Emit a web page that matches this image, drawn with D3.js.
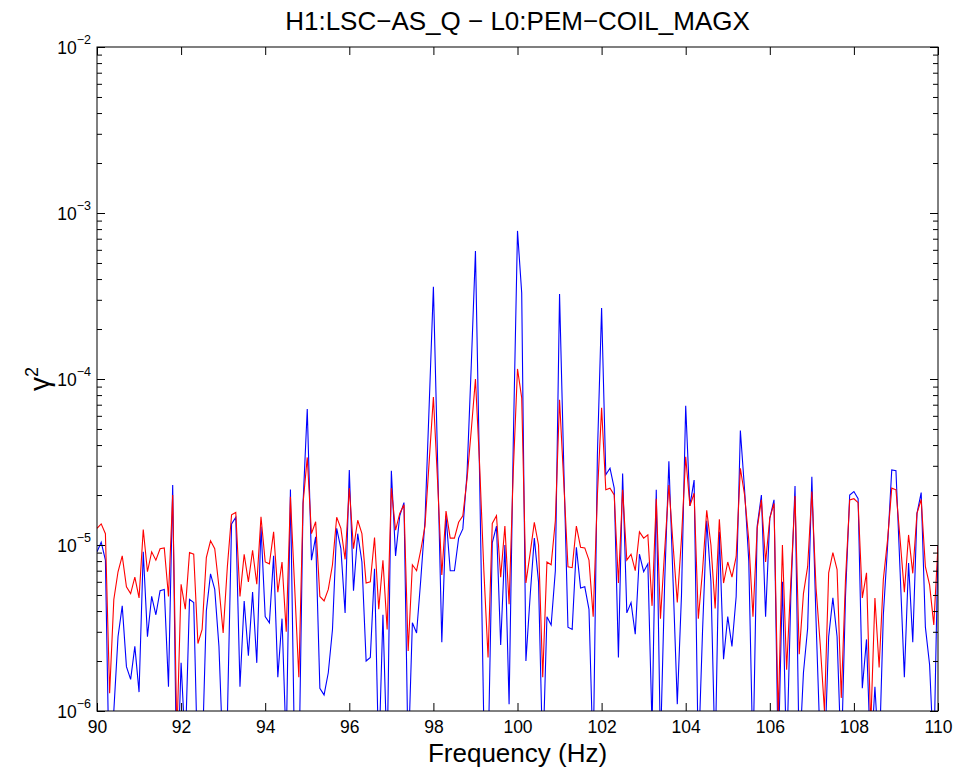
<!DOCTYPE html>
<html><head><meta charset="utf-8">
<script src="https://cdn.jsdelivr.net/npm/d3@7"></script>
<style>
body{margin:0;background:#fff}
svg{display:block}
text{font-family:"Liberation Sans",Arial,Helvetica,sans-serif;fill:#000}
</style>
</head><body>
<svg id="c" width="960" height="773"></svg>
<script>
const title = "H1:LSC\u2212AS_Q \u2212 L0:PEM\u2212COIL_MAGX";
const xLabel = "Frequency (Hz)";
const yLabelBase = "\u03b3";
const yLabelSup = "2";
const freqStart = 90;
const freqStep = 0.1;
const xTicks = [90, 92, 94, 96, 98, 100, 102, 104, 106, 108, 110];
const yTickExps = [-6, -5, -4, -3, -2];

const blueSeries = [
  9.1e-6,1.04e-5,8.1e-6,3e-7,1.0e-6,2.8e-6,4.3e-6,1.85e-6,1.55e-6,2.45e-6,
  1.3e-6,9.1e-6,2.8e-6,4.9e-6,3.8e-6,5.3e-6,5.4e-6,1.4e-6,2.3e-5,3e-7,
  1.95e-6,6e-7,4.7e-6,4.5e-6,4e-7,5e-7,4.0e-6,6.7e-6,5.4e-6,2.45e-6,
  5e-7,9e-7,1.34e-5,1.47e-5,1.4e-6,4.6e-6,2.15e-6,5.2e-6,1.95e-6,1.29e-5,
  3.7e-6,3.4e-6,8.6e-6,1.6e-6,3.6e-6,6e-7,2.16e-5,5e-7,4e-7,1.78e-5,
  6.6e-5,8.1e-6,1.12e-5,1.37e-6,1.25e-6,1.7e-6,3.1e-6,1.26e-5,9.5e-6,3.9e-6,
  2.83e-5,5.3e-6,1.17e-5,7.9e-6,2.0e-6,2.1e-6,7.2e-6,5e-7,3.8e-6,5e-7,
  2.8e-5,8.6e-6,1.5e-5,1.8e-5,5e-7,3.4e-6,2.95e-6,6.2e-6,1.4e-5,7.0e-5,
  3.6e-4,3.2e-5,2.6e-6,1.5e-5,7.0e-6,7.0e-6,1.1e-5,1.25e-5,2.7e-5,1.2e-4,
  5.9e-4,2.5e-5,8e-7,5e-7,1.03e-5,1.3e-5,2.5e-6,1.0e-5,1.1e-6,4.2e-5,
  7.8e-4,3.3e-4,2.0e-6,4.9e-6,1.1e-5,6.0e-6,5e-7,3.7e-6,3.3e-6,7.0e-6,
  3.25e-4,3.0e-5,3.2e-6,3.1e-6,9.7e-6,5.5e-6,5.6e-6,4.1e-6,5e-7,3.5e-5,
  2.68e-4,2.65e-5,2.9e-5,2.2e-5,2.1e-6,2.7e-5,3.9e-6,4.5e-6,2.9e-6,8.8e-6,
  6.9e-6,7.7e-6,8e-7,2.15e-5,6e-7,6.0e-6,3.2e-5,6.0e-6,1.1e-6,5.0e-6,
  6.9e-5,1.72e-5,2.46e-5,5e-7,3.0e-6,1.4e-5,6.0e-6,5e-7,1.2e-5,2.05e-6,
  3.7e-6,2.45e-6,4.9e-6,4.9e-5,2.15e-5,8.0e-6,5e-7,1.3e-5,2.0e-5,3.7e-6,
  1.45e-5,1.87e-5,5e-7,6.0e-6,5e-7,4.9e-6,2.27e-5,5e-7,1.7e-6,3.15e-6,
  2.58e-5,3.5e-6,6e-7,5e-7,2.8e-6,4.8e-6,2.8e-6,5e-7,4.9e-6,2.0e-5,
  2.1e-5,1.9e-5,1.37e-6,2.7e-6,5e-7,1.4e-6,5e-7,3.8e-6,9.8e-6,2.83e-5,
  2.8e-5,6.8e-6,1.6e-6,7.8e-6,2.6e-6,1.55e-5,2.07e-5,3.2e-6,1.9e-6,5e-7,
  1.0e-5
];

const redSeries = [
  1.26e-5,1.34e-5,1.17e-5,1.28e-6,4.7e-6,6.9e-6,8.6e-6,5.6e-6,5.1e-6,6.4e-6,
  4.8e-6,1.24e-5,6.9e-6,9.1e-6,8.1e-6,9.5e-6,9.6e-6,4.9e-6,2.0e-5,7e-7,
  5.8e-6,4.1e-6,9.0e-6,8.8e-6,2.55e-6,3.1e-6,8.4e-6,1.06e-5,9.5e-6,5.6e-6,
  2.95e-6,7.4e-6,1.52e-5,1.57e-5,4.9e-6,8.8e-6,6.0e-6,9.3e-6,5.8e-6,1.48e-5,
  7.9e-6,7.7e-6,1.2e-5,5.2e-6,7.9e-6,3.0e-6,1.95e-5,5.6e-6,1.6e-6,1.78e-5,
  3.37e-5,1.17e-5,1.38e-5,4.9e-6,4.6e-6,5.4e-6,7.6e-6,1.47e-5,1.26e-5,8.2e-6,
  2.2e-5,9.5e-6,1.41e-5,1.17e-5,5.9e-6,6.0e-6,1.11e-5,4.1e-6,8.1e-6,3.1e-6,
  2.2e-5,1.23e-5,1.55e-5,1.75e-5,2.3e-6,7.6e-6,7.0e-6,9.3e-6,1.3e-5,3.2e-5,
  7.8e-5,2.4e-5,6.6e-6,1.6e-5,1.1e-5,1.1e-5,1.37e-5,1.5e-5,2.5e-5,4.9e-5,
  1.0e-4,3.0e-5,7.0e-6,2.1e-6,1.35e-5,1.5e-5,6.4e-6,1.3e-5,4.4e-6,2.8e-5,
  1.15e-4,7.7e-5,5.9e-6,8.9e-6,1.37e-5,1.0e-5,1.6e-6,7.9e-6,7.6e-6,1.4e-5,
  7.5e-5,2.4e-5,7.4e-6,7.3e-6,1.3e-5,9.7e-6,9.6e-6,8.1e-6,3.7e-6,2.0e-5,
  6.7e-5,2.15e-5,2.2e-5,2.0e-5,5.9e-6,2.15e-5,8.1e-6,8.8e-6,7.0e-6,1.2e-5,
  1.1e-5,1.15e-5,4.3e-6,1.9e-5,3.6e-6,9.3e-6,2.3e-5,1.0e-5,4.5e-6,1.1e-5,
  3.4e-5,1.72e-5,2.05e-5,3.6e-6,7.0e-6,1.62e-5,1.0e-5,4.15e-6,1.43e-5,5.9e-6,
  7.9e-6,6.4e-6,8.5e-6,2.9e-5,2.0e-5,1.07e-5,3.7e-6,1.26e-5,1.87e-5,7.9e-6,
  1.45e-5,1.78e-5,9e-7,1.0e-5,1.77e-6,6.0e-6,1.97e-5,2.2e-6,5.1e-6,7.4e-6,
  2.1e-5,5.5e-6,2.5e-6,1.0e-6,6.8e-6,9.0e-6,7.1e-6,1.2e-6,6.2e-6,1.87e-5,
  1.9e-5,1.8e-5,4.8e-6,6.8e-6,8e-7,4.8e-6,1.83e-6,6.2e-6,1.07e-5,2.2e-5,
  2.15e-5,1.07e-5,5.2e-6,1.15e-5,6.75e-6,1.55e-5,1.88e-5,7.4e-6,5.75e-6,3.3e-6,
  1.0e-5
];

const svg = d3.select('#c');
const M = {l: 97, r: 938, t: 47, b: 711};
const x = d3.scaleLinear().domain([xTicks[0], xTicks[xTicks.length - 1]]).range([M.l, M.r]);
const y = d3.scaleLog().domain([Math.pow(10, yTickExps[0]), Math.pow(10, yTickExps[yTickExps.length - 1])]).range([M.b, M.t]);
const freqs = blueSeries.map((_, i) => +(freqStart + i * freqStep).toFixed(2));

svg.append('rect').attr('x', 0).attr('y', 0).attr('width', 960).attr('height', 773).attr('fill', '#fff');

svg.append('defs').append('clipPath').attr('id', 'clip')
  .append('rect').attr('x', M.l).attr('y', M.t).attr('width', M.r - M.l).attr('height', M.b - M.t);

const line = d3.line().x((d, i) => x(freqs[i])).y(d => y(d));
const plot = svg.append('g').attr('clip-path', 'url(#clip)');
plot.append('path').datum(blueSeries).attr('d', line)
  .attr('fill', 'none').attr('stroke', '#0000ff').attr('stroke-width', 1.1).attr('stroke-linejoin', 'miter');
plot.append('path').datum(redSeries).attr('d', line)
  .attr('fill', 'none').attr('stroke', '#ff0000').attr('stroke-width', 1.1).attr('stroke-linejoin', 'miter');

function styleAxis(g) {
  g.select('.domain').remove();
  g.selectAll('.tick line').attr('stroke', '#000').attr('stroke-width', 1);
  g.attr('font-family', null).attr('font-size', null);
}

// bottom axis with labels
svg.append('g').attr('transform', `translate(0,${M.b})`)
  .call(d3.axisBottom(x).tickValues(xTicks).tickSizeInner(-8).tickSizeOuter(0).tickPadding(10).tickFormat(d3.format('d')))
  .call(styleAxis)
  .selectAll('text').style('font-size', '17.5px');
// top axis ticks
svg.append('g').attr('transform', `translate(0,${M.t})`)
  .call(d3.axisTop(x).tickValues(xTicks).tickSizeInner(-8).tickSizeOuter(0).tickFormat(''))
  .call(styleAxis);

const majors = yTickExps.map(e => Math.pow(10, e));
const minors = [];
for (let i = 0; i < yTickExps.length - 1; i++) {
  for (let k = 2; k <= 9; k++) minors.push(k * Math.pow(10, yTickExps[i]));
}
svg.append('g').attr('transform', `translate(${M.l},0)`)
  .call(d3.axisLeft(y).tickValues(majors).tickSizeInner(-8).tickSizeOuter(0).tickFormat(''))
  .call(styleAxis);
svg.append('g').attr('transform', `translate(${M.l},0)`)
  .call(d3.axisLeft(y).tickValues(minors).tickSizeInner(-5).tickSizeOuter(0).tickFormat(''))
  .call(styleAxis);
svg.append('g').attr('transform', `translate(${M.r},0)`)
  .call(d3.axisRight(y).tickValues(majors).tickSizeInner(-8).tickSizeOuter(0).tickFormat(''))
  .call(styleAxis);
svg.append('g').attr('transform', `translate(${M.r},0)`)
  .call(d3.axisRight(y).tickValues(minors).tickSizeInner(-5).tickSizeOuter(0).tickFormat(''))
  .call(styleAxis);

// y tick labels 10^e
const yl = svg.append('g');
yTickExps.forEach(e => {
  const t = yl.append('text').attr('x', 91).attr('y', y(Math.pow(10, e)) + 7)
    .attr('text-anchor', 'end').style('font-size', '17.5px');
  t.append('tspan').text('10');
  t.append('tspan').attr('dy', -10).style('font-size', '12.5px').text('\u2212' + Math.abs(e));
});

// box
svg.append('rect').attr('x', M.l).attr('y', M.t).attr('width', M.r - M.l).attr('height', M.b - M.t)
  .attr('fill', 'none').attr('stroke', '#000').attr('stroke-width', 1);

// title
svg.append('text').attr('x', (M.l + M.r) / 2).attr('y', 30).attr('text-anchor', 'middle')
  .style('font-size', '26px').text(title);
// x label
svg.append('text').attr('x', (M.l + M.r) / 2).attr('y', 762).attr('text-anchor', 'middle')
  .style('font-size', '26px').text(xLabel);
// y label
const ylab = svg.append('text').attr('transform', `translate(49,${(M.t + M.b) / 2}) rotate(-90)`)
  .attr('text-anchor', 'middle').style('font-size', '28px');
ylab.append('tspan').text(yLabelBase);
ylab.append('tspan').attr('dy', -11).style('font-size', '18px').text(yLabelSup);
</script>
</body></html>
